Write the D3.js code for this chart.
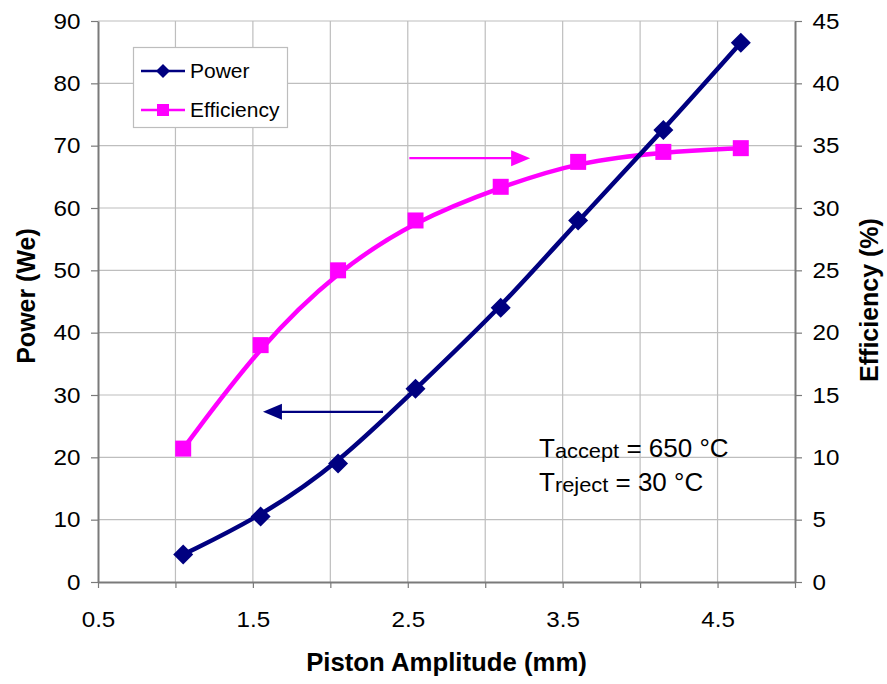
<!DOCTYPE html>
<html><head><meta charset="utf-8">
<script src="https://cdn.jsdelivr.net/npm/d3@7"></script>
<style>
body{margin:0;background:#fff}
svg text{font-family:"Liberation Sans",Arial,Helvetica,sans-serif;fill:#000}
</style>
</head><body>
<svg id="chart" width="887" height="684"></svg>
<script>
// ---- data ----
const amplitude  = [1.05, 1.55, 2.05, 2.55, 3.1, 3.6, 4.15, 4.65];
const power      = [4.4, 10.5, 19, 31, 44, 58, 72.5, 86.5];
const efficiency = [10.7, 19, 25, 29, 31.7, 33.7, 34.5, 34.8];
const xTickLabels = [0.5, 1.5, 2.5, 3.5, 4.5];
const xGridValues = [1, 1.5, 2, 2.5, 3, 3.5, 4, 4.5];
const xMinorTicks = [0.5, 1, 1.5, 2, 2.5, 3, 3.5, 4, 4.5, 5];
const leftTicks  = [0, 10, 20, 30, 40, 50, 60, 70, 80, 90];
const rightTicks = [0, 5, 10, 15, 20, 25, 30, 35, 40, 45];
const seriesNames = ["Power", "Efficiency"];
const annotation = [["T", "accept", " = 650 °C"], ["T", "reject", " = 30 °C"]];
// arrows: [x1, x2, y] in data units
const effArrow = [2.51, 3.29, 34.0];
const powArrow = [2.34, 1.565, 27.3];

// ---- layout ----
const W = 887, H = 684;
const plot = {left: 98, right: 795, top: 21, bottom: 582};
const SX = 1.1;
const navy = "#000080", magenta = "#FF00FF";

const svg = d3.select("#chart");
svg.append("rect").attr("width", W).attr("height", H).attr("fill", "#fff");

const x  = d3.scaleLinear().domain([0.5, 5]).range([plot.left, plot.right]);
const yL = d3.scaleLinear().domain([0, 90]).range([plot.bottom, plot.top]);
const yR = d3.scaleLinear().domain([0, 45]).range([plot.bottom, plot.top]);

// grid
const grid = svg.append("g");
grid.selectAll("line.v").data(xGridValues).join("line").attr("class", "v")
  .attr("x1", d => x(d)).attr("x2", d => x(d))
  .attr("y1", plot.top).attr("y2", plot.bottom)
  .attr("stroke", "#bebebe").attr("stroke-width", 1.2);
grid.selectAll("line.h").data(leftTicks.slice(1)).join("line").attr("class", "h")
  .attr("x1", plot.left).attr("x2", plot.right)
  .attr("y1", d => yL(d)).attr("y2", d => yL(d))
  .attr("stroke", "#bebebe").attr("stroke-width", 1.2);

function styleAxis(g) {
  g.select(".domain").attr("stroke", "#7a7a7a").attr("stroke-width", 2);
  g.selectAll(".tick line").attr("stroke", "#7a7a7a").attr("stroke-width", 1.2);
  g.selectAll(".tick text")
    .style("font-size", "22px")
    .attr("fill", "#000")
    .attr("transform", `scale(${SX},1)`);
}

// left axis
const gL = svg.append("g").attr("transform", `translate(${plot.left},0)`)
  .call(d3.axisLeft(yL).tickValues(leftTicks).tickSize(7).tickPadding(9).tickSizeOuter(0).tickFormat(d3.format("d")));
styleAxis(gL);
// right axis
const gR = svg.append("g").attr("transform", `translate(${plot.right},0)`)
  .call(d3.axisRight(yR).tickValues(rightTicks).tickSize(7).tickPadding(9).tickSizeOuter(0).tickFormat(d3.format("d")));
styleAxis(gR);
// bottom axis with minor ticks
const gBm = svg.append("g").attr("transform", `translate(0,${plot.bottom})`)
  .call(d3.axisBottom(x).tickValues(xMinorTicks).tickSize(6).tickSizeOuter(0).tickFormat(""));
styleAxis(gBm);
// bottom labels
const gB = svg.append("g").attr("transform", `translate(0,${plot.bottom})`)
  .call(d3.axisBottom(x).tickValues(xTickLabels).tickSize(0).tickPadding(29).tickFormat(d3.format(".1f")));
gB.select(".domain").remove();
gB.selectAll(".tick text").style("font-size", "22px").attr("fill", "#000")
  .attr("transform", `scale(${SX},1)`).attr("x", 0);

function placedText(parent, tx, ty, str, opts) {
  const g = parent.append("g").attr("transform",
    `translate(${tx},${ty})${opts.rotate ? " rotate(" + opts.rotate + ")" : ""} scale(${opts.sx || 1},${opts.sy || 1})`);
  return g.append("text").attr("text-anchor", opts.anchor || "middle")
    .style("font-size", opts.size + "px").style("font-weight", opts.weight || "normal").text(str);
}
// axis titles
placedText(svg, (plot.left + plot.right) / 2, 671, "Piston Amplitude (mm)", {size: 25, weight: "bold", sx: 1.03});
placedText(svg, 35, 296, "Power (We)", {size: 25, weight: "bold", rotate: -90, sy: 1.03});
placedText(svg, 878, 300, "Efficiency (%)", {size: 25, weight: "bold", rotate: -90, sy: 1.03});

// lines (smoothed, like the original trend curves)
const lineP = d3.line().x((d, i) => x(amplitude[i])).y(d => yL(d)).curve(d3.curveBasis);
const lineE = d3.line().x((d, i) => x(amplitude[i])).y(d => yR(d)).curve(d3.curveBasis);

svg.append("path").datum(efficiency).attr("d", lineE)
  .attr("fill", "none").attr("stroke", magenta).attr("stroke-width", 4.5).attr("stroke-linejoin", "round");
svg.append("path").datum(power).attr("d", lineP)
  .attr("fill", "none").attr("stroke", navy).attr("stroke-width", 4.5).attr("stroke-linejoin", "round");

function diamondPath(r) { return `M0,${-r}L${r},0L0,${r}L${-r},0Z`; }

svg.append("g").selectAll("rect").data(efficiency).join("rect")
  .attr("x", (d, i) => x(amplitude[i]) - 8).attr("y", d => yR(d) - 8)
  .attr("width", 16).attr("height", 16).attr("fill", magenta);
svg.append("g").selectAll("path").data(power).join("path")
  .attr("transform", (d, i) => `translate(${x(amplitude[i])},${yL(d)})`)
  .attr("d", diamondPath(10)).attr("fill", navy);

// arrows
function drawArrow(spec, yScale, color) {
  const x1 = x(spec[0]), x2 = x(spec[1]), yy = yScale(spec[2]);
  const dir = x2 > x1 ? 1 : -1;
  const headLen = 19, headHalf = 8;
  svg.append("line").attr("x1", x1).attr("y1", yy).attr("x2", x2 - dir * headLen * 0.8).attr("y2", yy)
    .attr("stroke", color).attr("stroke-width", 2.2);
  svg.append("path")
    .attr("d", `M${x2},${yy}L${x2 - dir * headLen},${yy - headHalf}L${x2 - dir * headLen},${yy + headHalf}Z`)
    .attr("fill", color);
}
drawArrow(effArrow, yR, magenta);
drawArrow(powArrow, yL, navy);

// legend
const leg = svg.append("g");
leg.append("rect").attr("x", 133.5).attr("y", 47.5).attr("width", 154).attr("height", 80)
  .attr("fill", "#fff").attr("stroke", "#bdbdbd").attr("stroke-width", 1.2);
const legY = [71, 110];
seriesNames.forEach((name, i) => {
  const col = i === 0 ? navy : magenta;
  leg.append("line").attr("x1", 141).attr("x2", 185).attr("y1", legY[i]).attr("y2", legY[i])
    .attr("stroke", col).attr("stroke-width", 2.5);
  if (i === 0) {
    leg.append("path").attr("transform", `translate(163,${legY[i]})`).attr("d", diamondPath(7)).attr("fill", col);
  } else {
    leg.append("rect").attr("x", 157).attr("y", legY[i] - 6).attr("width", 12).attr("height", 12).attr("fill", col);
  }
  placedText(leg, 190, legY[i] + 7, name, {size: 20, anchor: "start", sx: 1.05});
});

// annotation
const annY = [457, 491];
annotation.forEach((parts, i) => {
  const g = svg.append("g").attr("transform", `translate(539,${annY[i]}) scale(1.04,1)`);
  const t = g.append("text").style("font-size", "25px");
  t.append("tspan").text(parts[0]);
  t.append("tspan").style("font-size", "21px").attr("dy", 1).text(parts[1]);
  t.append("tspan").attr("dy", -1).text(parts[2]);
});
</script>
</body></html>
